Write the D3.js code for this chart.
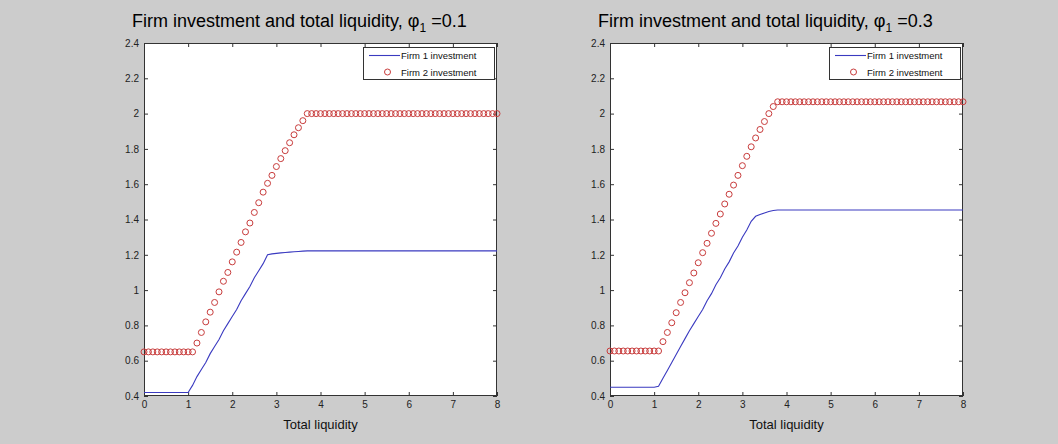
<!DOCTYPE html>
<html><head><meta charset="utf-8">
<script src="https://cdn.jsdelivr.net/npm/d3@7"></script>
<style>
body{margin:0;background:#cccccc;}
svg{display:block;}
text{font-family:"Liberation Sans",Arial,Helvetica,sans-serif;}
</style>
</head><body>
<svg id="chart" width="1058" height="444"></svg>
<script>
// ---- data ----
const liquidity = [
 0.0,0.1,0.2,0.3,0.4,0.5,0.6,0.7,0.8,0.9,
 1.0,1.1,1.2,1.3,1.4,1.5,1.6,1.7,1.8,1.9,
 2.0,2.1,2.2,2.3,2.4,2.5,2.6,2.7,2.8,2.9,
 3.0,3.1,3.2,3.3,3.4,3.5,3.6,3.7,3.8,3.9,
 4.0,4.1,4.2,4.3,4.4,4.5,4.6,4.7,4.8,4.9,
 5.0,5.1,5.2,5.3,5.4,5.5,5.6,5.7,5.8,5.9,
 6.0,6.1,6.2,6.3,6.4,6.5,6.6,6.7,6.8,6.9,
 7.0,7.1,7.2,7.3,7.4,7.5,7.6,7.7,7.8,7.9,
 8.0];

// phi1 = 0.1
const firm1_phi01 = [
 0.42,0.42,0.42,0.42,0.42,0.42,0.42,0.42,0.42,0.42,
 0.42,0.46,0.51,0.55,0.59,0.64,0.68,0.72,0.77,0.81,
 0.85,0.89,0.94,0.98,1.02,1.07,1.11,1.15,1.20,1.205,
 1.208,1.211,1.213,1.215,1.217,1.219,1.221,1.222,1.222,1.222,
 1.222,1.222,1.222,1.222,1.222,1.222,1.222,1.222,1.222,1.222,
 1.222,1.222,1.222,1.222,1.222,1.222,1.222,1.222,1.222,1.222,
 1.222,1.222,1.222,1.222,1.222,1.222,1.222,1.222,1.222,1.222,
 1.222,1.222,1.222,1.222,1.222,1.222,1.222,1.222,1.222,1.222,
 1.222];
const firm2_phi01 = [
 0.65,0.65,0.65,0.65,0.65,0.65,0.65,0.65,0.65,0.65,
 0.65,0.65,0.70,0.76,0.82,0.875,0.93,0.99,1.05,1.10,
 1.16,1.215,1.27,1.33,1.38,1.44,1.495,1.555,1.605,1.65,
 1.70,1.745,1.79,1.835,1.88,1.92,1.96,2.0,2.0,2.0,
 2.0,2.0,2.0,2.0,2.0,2.0,2.0,2.0,2.0,2.0,
 2.0,2.0,2.0,2.0,2.0,2.0,2.0,2.0,2.0,2.0,
 2.0,2.0,2.0,2.0,2.0,2.0,2.0,2.0,2.0,2.0,
 2.0,2.0,2.0,2.0,2.0,2.0,2.0,2.0,2.0,2.0,
 2.0];

// phi1 = 0.3
const firm1_phi03 = [
 0.45,0.45,0.45,0.45,0.45,0.45,0.45,0.45,0.45,0.45,
 0.45,0.455,0.50,0.545,0.59,0.635,0.68,0.725,0.77,0.81,
 0.85,0.89,0.94,0.98,1.03,1.07,1.12,1.16,1.21,1.25,
 1.30,1.34,1.39,1.418,1.428,1.437,1.445,1.451,1.454,1.454,
 1.454,1.454,1.454,1.454,1.454,1.454,1.454,1.454,1.454,1.454,
 1.454,1.454,1.454,1.454,1.454,1.454,1.454,1.454,1.454,1.454,
 1.454,1.454,1.454,1.454,1.454,1.454,1.454,1.454,1.454,1.454,
 1.454,1.454,1.454,1.454,1.454,1.454,1.454,1.454,1.454,1.454,
 1.454];
const firm2_phi03 = [
 0.655,0.655,0.655,0.655,0.655,0.655,0.655,0.655,0.655,0.655,
 0.655,0.655,0.708,0.76,0.815,0.872,0.93,0.985,1.042,1.097,
 1.155,1.212,1.265,1.322,1.378,1.431,1.488,1.543,1.595,1.65,
 1.705,1.758,1.812,1.862,1.91,1.955,2.0,2.04,2.067,2.067,
 2.067,2.067,2.067,2.067,2.067,2.067,2.067,2.067,2.067,2.067,
 2.067,2.067,2.067,2.067,2.067,2.067,2.067,2.067,2.067,2.067,
 2.067,2.067,2.067,2.067,2.067,2.067,2.067,2.067,2.067,2.067,
 2.067,2.067,2.067,2.067,2.067,2.067,2.067,2.067,2.067,2.067,
 2.067];

const xTicks = [0,1,2,3,4,5,6,7,8];
const yTicks = [0.4,0.6,0.8,1,1.2,1.4,1.6,1.8,2,2.2,2.4];
const phiValues = ["0.1","0.3"];
const seriesNames = ["Firm 1 investment","Firm 2 investment"];
const xLabel = "Total liquidity";

// ---- drawing ----
const svg = d3.select("#chart");
const panels = [
  {x0:144, x1:497, f1:firm1_phi01, f2:firm2_phi01, phi:phiValues[0]},
  {x0:610, x1:963, f1:firm1_phi03, f2:firm2_phi03, phi:phiValues[1]}
];
const yTop = 43, yBot = 396;
const blue = "#3a3ac0", red = "#c83c3c", axisCol = "#333";

panels.forEach(p => {
  const x = d3.scaleLinear().domain([0,8]).range([p.x0,p.x1]);
  const y = d3.scaleLinear().domain([0.4,2.4]).range([yBot,yTop]);
  const g = svg.append("g");

  g.append("rect").attr("x",p.x0).attr("y",yTop)
    .attr("width",p.x1-p.x0).attr("height",yBot-yTop).attr("fill","#fff");

  const fmt = d3.format("~g");
  const styleAxis = sel => {
    sel.select(".domain").remove();
    sel.selectAll("line").attr("stroke",axisCol);
    sel.selectAll("text").attr("fill","#222").style("font-size","10px")
      .style("font-family",'"Liberation Sans",Arial,sans-serif');
  };
  g.append("g").attr("transform",`translate(0,${yBot})`)
    .call(d3.axisBottom(x).tickValues(xTicks).tickFormat(fmt).tickSize(-4).tickPadding(5)).call(styleAxis);
  g.append("g").attr("transform",`translate(0,${yTop})`)
    .call(d3.axisTop(x).tickValues(xTicks).tickFormat("").tickSize(-4)).call(styleAxis);
  g.append("g").attr("transform",`translate(${p.x0},0)`)
    .call(d3.axisLeft(y).tickValues(yTicks).tickFormat(fmt).tickSize(-4).tickPadding(5)).call(styleAxis);
  g.append("g").attr("transform",`translate(${p.x1},0)`)
    .call(d3.axisRight(y).tickValues(yTicks).tickFormat("").tickSize(-4)).call(styleAxis);

  g.append("rect").attr("x",p.x0+0.5).attr("y",yTop+0.5)
    .attr("width",p.x1-p.x0-1).attr("height",yBot-yTop-1)
    .attr("fill","none").attr("stroke",axisCol).attr("stroke-width",1);

  // firm 1 line
  const line = d3.line().x((d,i)=>x(liquidity[i])).y(d=>y(d));
  g.append("path").datum(p.f1).attr("d",line)
    .attr("fill","none").attr("stroke",blue).attr("stroke-width",1.1);

  // firm 2 circles
  g.append("g").selectAll("circle").data(p.f2).join("circle")
    .attr("cx",(d,i)=>x(liquidity[i])).attr("cy",d=>y(d)).attr("r",3)
    .attr("fill","none").attr("stroke",red).attr("stroke-width",1);

  // title
  const t = g.append("text").attr("x",p.x0-12).attr("y",27)
    .style("font-size","18px").attr("fill","#000");
  t.append("tspan").text("Firm investment and total liquidity, φ");
  t.append("tspan").attr("dy",5).style("font-size","12px").text("1");
  t.append("tspan").attr("dy",-5).text(" =" + p.phi);

  // x label
  g.append("text").attr("x",(p.x0+p.x1)/2).attr("y",429)
    .attr("text-anchor","middle").style("font-size","13px").attr("fill","#111").text(xLabel);

  // legend
  const lx = p.x1-134, ly = 47;
  const lg = g.append("g");
  lg.append("rect").attr("x",lx+0.5).attr("y",ly+0.5).attr("width",131).attr("height",32)
    .attr("fill","#fff").attr("stroke",axisCol);
  lg.append("line").attr("x1",lx+6).attr("x2",lx+37).attr("y1",ly+8.5).attr("y2",ly+8.5)
    .attr("stroke",blue).attr("stroke-width",1.1);
  lg.append("text").attr("x",lx+38).attr("y",ly+12.3).style("font-size","9.5px").attr("fill","#111").text(seriesNames[0]);
  lg.append("circle").attr("cx",lx+24.5).attr("cy",ly+25).attr("r",3)
    .attr("fill","none").attr("stroke",red);
  lg.append("text").attr("x",lx+38).attr("y",ly+28.8).style("font-size","9.5px").attr("fill","#111").text(seriesNames[1]);
});
</script>
</body></html>
